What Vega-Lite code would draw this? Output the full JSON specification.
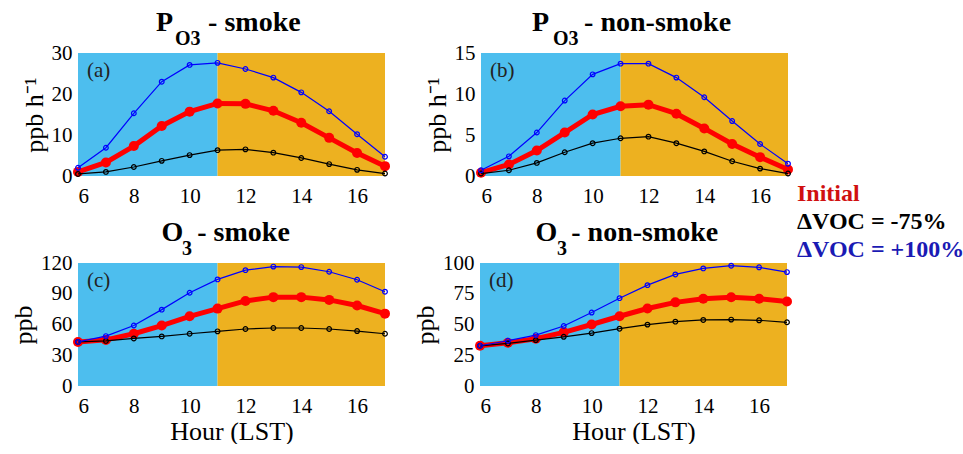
{
  "$schema": "https://vega.github.io/schema/vega-lite/v6.json",
  "padding": {"left": 10, "top": 9, "right": 0, "bottom": 0},
  "background": "white",
  "datasets": {
    "series": [
      {"panel":"a","scenario":"Initial","hour":6,"value":1.0},{"panel":"a","scenario":"Initial","hour":7,"value":3.3},{"panel":"a","scenario":"Initial","hour":8,"value":7.3},{"panel":"a","scenario":"Initial","hour":9,"value":12.2},{"panel":"a","scenario":"Initial","hour":10,"value":15.7},{"panel":"a","scenario":"Initial","hour":11,"value":17.7},{"panel":"a","scenario":"Initial","hour":12,"value":17.6},{"panel":"a","scenario":"Initial","hour":13,"value":15.9},{"panel":"a","scenario":"Initial","hour":14,"value":13.0},{"panel":"a","scenario":"Initial","hour":15,"value":9.3},{"panel":"a","scenario":"Initial","hour":16,"value":5.6},{"panel":"a","scenario":"Initial","hour":17,"value":2.4},
      {"panel":"a","scenario":"ΔVOC = -75%","hour":6,"value":0.5},{"panel":"a","scenario":"ΔVOC = -75%","hour":7,"value":1.0},{"panel":"a","scenario":"ΔVOC = -75%","hour":8,"value":2.2},{"panel":"a","scenario":"ΔVOC = -75%","hour":9,"value":3.7},{"panel":"a","scenario":"ΔVOC = -75%","hour":10,"value":5.1},{"panel":"a","scenario":"ΔVOC = -75%","hour":11,"value":6.3},{"panel":"a","scenario":"ΔVOC = -75%","hour":12,"value":6.5},{"panel":"a","scenario":"ΔVOC = -75%","hour":13,"value":5.7},{"panel":"a","scenario":"ΔVOC = -75%","hour":14,"value":4.4},{"panel":"a","scenario":"ΔVOC = -75%","hour":15,"value":2.9},{"panel":"a","scenario":"ΔVOC = -75%","hour":16,"value":1.5},{"panel":"a","scenario":"ΔVOC = -75%","hour":17,"value":0.6},
      {"panel":"a","scenario":"ΔVOC = +100%","hour":6,"value":2.0},{"panel":"a","scenario":"ΔVOC = +100%","hour":7,"value":6.9},{"panel":"a","scenario":"ΔVOC = +100%","hour":8,"value":15.3},{"panel":"a","scenario":"ΔVOC = +100%","hour":9,"value":23.0},{"panel":"a","scenario":"ΔVOC = +100%","hour":10,"value":27.1},{"panel":"a","scenario":"ΔVOC = +100%","hour":11,"value":27.6},{"panel":"a","scenario":"ΔVOC = +100%","hour":12,"value":26.1},{"panel":"a","scenario":"ΔVOC = +100%","hour":13,"value":24.0},{"panel":"a","scenario":"ΔVOC = +100%","hour":14,"value":20.4},{"panel":"a","scenario":"ΔVOC = +100%","hour":15,"value":15.8},{"panel":"a","scenario":"ΔVOC = +100%","hour":16,"value":10.2},{"panel":"a","scenario":"ΔVOC = +100%","hour":17,"value":4.7},
      {"panel":"b","scenario":"Initial","hour":6,"value":0.4},{"panel":"b","scenario":"Initial","hour":7,"value":1.4},{"panel":"b","scenario":"Initial","hour":8,"value":3.1},{"panel":"b","scenario":"Initial","hour":9,"value":5.3},{"panel":"b","scenario":"Initial","hour":10,"value":7.5},{"panel":"b","scenario":"Initial","hour":11,"value":8.5},{"panel":"b","scenario":"Initial","hour":12,"value":8.7},{"panel":"b","scenario":"Initial","hour":13,"value":7.6},{"panel":"b","scenario":"Initial","hour":14,"value":5.8},{"panel":"b","scenario":"Initial","hour":15,"value":3.9},{"panel":"b","scenario":"Initial","hour":16,"value":2.3},{"panel":"b","scenario":"Initial","hour":17,"value":0.8},
      {"panel":"b","scenario":"ΔVOC = -75%","hour":6,"value":0.3},{"panel":"b","scenario":"ΔVOC = -75%","hour":7,"value":0.7},{"panel":"b","scenario":"ΔVOC = -75%","hour":8,"value":1.6},{"panel":"b","scenario":"ΔVOC = -75%","hour":9,"value":2.9},{"panel":"b","scenario":"ΔVOC = -75%","hour":10,"value":4.0},{"panel":"b","scenario":"ΔVOC = -75%","hour":11,"value":4.6},{"panel":"b","scenario":"ΔVOC = -75%","hour":12,"value":4.8},{"panel":"b","scenario":"ΔVOC = -75%","hour":13,"value":4.0},{"panel":"b","scenario":"ΔVOC = -75%","hour":14,"value":3.0},{"panel":"b","scenario":"ΔVOC = -75%","hour":15,"value":1.8},{"panel":"b","scenario":"ΔVOC = -75%","hour":16,"value":0.9},{"panel":"b","scenario":"ΔVOC = -75%","hour":17,"value":0.3},
      {"panel":"b","scenario":"ΔVOC = +100%","hour":6,"value":0.7},{"panel":"b","scenario":"ΔVOC = +100%","hour":7,"value":2.4},{"panel":"b","scenario":"ΔVOC = +100%","hour":8,"value":5.3},{"panel":"b","scenario":"ΔVOC = +100%","hour":9,"value":9.2},{"panel":"b","scenario":"ΔVOC = +100%","hour":10,"value":12.4},{"panel":"b","scenario":"ΔVOC = +100%","hour":11,"value":13.7},{"panel":"b","scenario":"ΔVOC = +100%","hour":12,"value":13.7},{"panel":"b","scenario":"ΔVOC = +100%","hour":13,"value":12.0},{"panel":"b","scenario":"ΔVOC = +100%","hour":14,"value":9.6},{"panel":"b","scenario":"ΔVOC = +100%","hour":15,"value":6.7},{"panel":"b","scenario":"ΔVOC = +100%","hour":16,"value":3.9},{"panel":"b","scenario":"ΔVOC = +100%","hour":17,"value":1.5},
      {"panel":"c","scenario":"Initial","hour":6,"value":43},{"panel":"c","scenario":"Initial","hour":7,"value":45},{"panel":"c","scenario":"Initial","hour":8,"value":51},{"panel":"c","scenario":"Initial","hour":9,"value":59},{"panel":"c","scenario":"Initial","hour":10,"value":68},{"panel":"c","scenario":"Initial","hour":11,"value":75.5},{"panel":"c","scenario":"Initial","hour":12,"value":83},{"panel":"c","scenario":"Initial","hour":13,"value":86.7},{"panel":"c","scenario":"Initial","hour":14,"value":86.7},{"panel":"c","scenario":"Initial","hour":15,"value":84},{"panel":"c","scenario":"Initial","hour":16,"value":78.5},{"panel":"c","scenario":"Initial","hour":17,"value":70.6},
      {"panel":"c","scenario":"ΔVOC = -75%","hour":6,"value":43},{"panel":"c","scenario":"ΔVOC = -75%","hour":7,"value":44},{"panel":"c","scenario":"ΔVOC = -75%","hour":8,"value":46.4},{"panel":"c","scenario":"ΔVOC = -75%","hour":9,"value":48.4},{"panel":"c","scenario":"ΔVOC = -75%","hour":10,"value":51},{"panel":"c","scenario":"ΔVOC = -75%","hour":11,"value":53.3},{"panel":"c","scenario":"ΔVOC = -75%","hour":12,"value":55.6},{"panel":"c","scenario":"ΔVOC = -75%","hour":13,"value":56.6},{"panel":"c","scenario":"ΔVOC = -75%","hour":14,"value":56.6},{"panel":"c","scenario":"ΔVOC = -75%","hour":15,"value":55.6},{"panel":"c","scenario":"ΔVOC = -75%","hour":16,"value":53.6},{"panel":"c","scenario":"ΔVOC = -75%","hour":17,"value":51},
      {"panel":"c","scenario":"ΔVOC = +100%","hour":6,"value":43},{"panel":"c","scenario":"ΔVOC = +100%","hour":7,"value":48.7},{"panel":"c","scenario":"ΔVOC = +100%","hour":8,"value":59},{"panel":"c","scenario":"ΔVOC = +100%","hour":9,"value":74.5},{"panel":"c","scenario":"ΔVOC = +100%","hour":10,"value":91},{"panel":"c","scenario":"ΔVOC = +100%","hour":11,"value":104},{"panel":"c","scenario":"ΔVOC = +100%","hour":12,"value":113},{"panel":"c","scenario":"ΔVOC = +100%","hour":13,"value":116.5},{"panel":"c","scenario":"ΔVOC = +100%","hour":14,"value":116},{"panel":"c","scenario":"ΔVOC = +100%","hour":15,"value":111.5},{"panel":"c","scenario":"ΔVOC = +100%","hour":16,"value":103.7},{"panel":"c","scenario":"ΔVOC = +100%","hour":17,"value":92},
      {"panel":"d","scenario":"Initial","hour":6,"value":32.7},{"panel":"d","scenario":"Initial","hour":7,"value":35.1},{"panel":"d","scenario":"Initial","hour":8,"value":38.4},{"panel":"d","scenario":"Initial","hour":9,"value":43.6},{"panel":"d","scenario":"Initial","hour":10,"value":50},{"panel":"d","scenario":"Initial","hour":11,"value":56.7},{"panel":"d","scenario":"Initial","hour":12,"value":63},{"panel":"d","scenario":"Initial","hour":13,"value":68},{"panel":"d","scenario":"Initial","hour":14,"value":71},{"panel":"d","scenario":"Initial","hour":15,"value":72.2},{"panel":"d","scenario":"Initial","hour":16,"value":71},{"panel":"d","scenario":"Initial","hour":17,"value":68.7},
      {"panel":"d","scenario":"ΔVOC = -75%","hour":6,"value":32.7},{"panel":"d","scenario":"ΔVOC = -75%","hour":7,"value":34.6},{"panel":"d","scenario":"ΔVOC = -75%","hour":8,"value":37.3},{"panel":"d","scenario":"ΔVOC = -75%","hour":9,"value":40},{"panel":"d","scenario":"ΔVOC = -75%","hour":10,"value":43},{"panel":"d","scenario":"ΔVOC = -75%","hour":11,"value":46.6},{"panel":"d","scenario":"ΔVOC = -75%","hour":12,"value":49.9},{"panel":"d","scenario":"ΔVOC = -75%","hour":13,"value":52.3},{"panel":"d","scenario":"ΔVOC = -75%","hour":14,"value":53.7},{"panel":"d","scenario":"ΔVOC = -75%","hour":15,"value":54},{"panel":"d","scenario":"ΔVOC = -75%","hour":16,"value":53.4},{"panel":"d","scenario":"ΔVOC = -75%","hour":17,"value":51.8},
      {"panel":"d","scenario":"ΔVOC = +100%","hour":6,"value":32.7},{"panel":"d","scenario":"ΔVOC = +100%","hour":7,"value":36.8},{"panel":"d","scenario":"ΔVOC = +100%","hour":8,"value":41.4},{"panel":"d","scenario":"ΔVOC = +100%","hour":9,"value":48.8},{"panel":"d","scenario":"ΔVOC = +100%","hour":10,"value":59.7},{"panel":"d","scenario":"ΔVOC = +100%","hour":11,"value":71.4},{"panel":"d","scenario":"ΔVOC = +100%","hour":12,"value":82},{"panel":"d","scenario":"ΔVOC = +100%","hour":13,"value":90.7},{"panel":"d","scenario":"ΔVOC = +100%","hour":14,"value":95.6},{"panel":"d","scenario":"ΔVOC = +100%","hour":15,"value":97.8},{"panel":"d","scenario":"ΔVOC = +100%","hour":16,"value":96.5},{"panel":"d","scenario":"ΔVOC = +100%","hour":17,"value":92.6}
    ],
    "periods": [
      {"start": 6, "end": 11, "period": "morning"},
      {"start": 11, "end": 17, "period": "afternoon"}
    ]
  },
  "config": {
    "view": {"stroke": null},
    "font": "Liberation Serif",
    "axis": {"domain": false, "ticks": false, "grid": false, "labelOverlap": false, "labelFont": "Liberation Serif", "labelFontSize": 21, "labelColor": "#000000", "titleFont": "Liberation Serif", "titleFontSize": 26, "titleFontWeight": "normal", "titleColor": "#000000"},
    "axisX": {"labelPadding": 9, "titlePadding": 2, "labelOverlap": false},
    "axisY": {"labelPadding": 6, "titlePadding": 4, "labelOverlap": false},
    "title": {"font": "Liberation Serif", "fontWeight": "bold", "color": "#000000"},
    "legend": {"orient": "none", "legendX": 695, "legendY": 129, "title": null, "symbolSize": 0, "symbolStrokeWidth": 0, "symbolOpacity": 0, "labelFont": "Liberation Serif", "labelFontWeight": "bold", "labelFontSize": 24, "labelOffset": 0, "rowPadding": 4, "padding": 0, "labelLimit": 300,
      "labelColor": {"expr": "datum.value == 'Initial' ? '#d01010' : (datum.value == 'ΔVOC = -75%' ? '#000000' : '#1a1ab4')"}}
  },
  "spacing": 13,
  "vconcat": [
    {
      "spacing": 29,
      "hconcat": [
        {
          "title": {"text": "P\u00a0\u00a0\u00a0\u00a0\u00a0- smoke", "fontSize": 28, "anchor": "start", "dx": 135, "offset": -8},
          "vconcat": [{
            "title": {"text": "O3", "fontSize": 20, "anchor": "start", "frame": "group", "dx": 97, "offset": -7},
            "width": 307, "height": 123,
            "layer": [
              {"data": {"name": "periods"}, "mark": {"type": "rect"},
               "encoding": {"x": {"field": "start", "type": "quantitative", "scale": {"domain": [6, 17], "nice": false}, "axis": {"values": [6, 8, 10, 12, 14, 16], "title": null, "labelOverlap": false}},
                 "x2": {"field": "end"},
                 "fill": {"field": "period", "type": "nominal", "scale": {"domain": ["morning", "afternoon"], "range": ["#4DBEEE", "#EDB120"]}, "legend": null}}},
              {"data": {"name": "series"}, "transform": [{"filter": "datum.panel == 'a' && datum.scenario == 'Initial'"}],
               "mark": {"type": "line", "strokeWidth": 5, "point": {"filled": true, "size": 100}},
               "encoding": {"x": {"field": "hour", "type": "quantitative", "axis": {"values": [6, 8, 10, 12, 14, 16], "title": null, "labelOverlap": false}},
                 "y": {"field": "value", "type": "quantitative", "scale": {"domain": [0, 30], "nice": false}, "axis": {"values": [0, 10, 20, 30], "title": "ppb h⁻¹", "labelOverlap": false}},
                 "color": {"field": "scenario", "type": "nominal", "scale": {"domain": ["Initial", "ΔVOC = -75%", "ΔVOC = +100%"], "range": ["#ff0000", "#000000", "#0000ff"]}}}},
              {"data": {"name": "series"}, "transform": [{"filter": "datum.panel == 'a' && datum.scenario != 'Initial'"}],
               "mark": {"type": "line", "strokeWidth": 1.2, "point": {"filled": false, "size": 22, "strokeWidth": 1.2}},
               "encoding": {"x": {"field": "hour", "type": "quantitative", "axis": {"values": [6, 8, 10, 12, 14, 16], "title": null, "labelOverlap": false}},
                 "y": {"field": "value", "type": "quantitative", "axis": {"values": [0, 10, 20, 30], "title": "ppb h⁻¹", "labelOverlap": false}},
                 "color": {"field": "scenario", "type": "nominal"}}},
              {"data": {"values": [{}]}, "mark": {"type": "text", "align": "left", "baseline": "top", "dx": 9, "dy": 7, "fontSize": 21, "font": "Liberation Serif", "color": "#222222"},
               "encoding": {"x": {"datum": 6, "type": "quantitative", "axis": {"values": [6, 8, 10, 12, 14, 16], "title": null, "labelOverlap": false}},
                 "y": {"datum": 30, "type": "quantitative", "axis": {"values": [0, 10, 20, 30], "title": "ppb h⁻¹", "labelOverlap": false}}, "text": {"value": "(a)"}}}
            ]
          }]
        },
        {
          "title": {"text": "P\u00a0\u00a0\u00a0\u00a0\u00a0- non-smoke", "fontSize": 28, "anchor": "start", "dx": 108, "offset": -8},
          "vconcat": [{
            "title": {"text": "O3", "fontSize": 20, "anchor": "start", "frame": "group", "dx": 72, "offset": -7},
            "width": 307, "height": 123,
            "layer": [
              {"data": {"name": "periods"}, "mark": {"type": "rect"},
               "encoding": {"x": {"field": "start", "type": "quantitative", "scale": {"domain": [6, 17], "nice": false}, "axis": {"values": [6, 8, 10, 12, 14, 16], "title": null, "labelOverlap": false}},
                 "x2": {"field": "end"},
                 "fill": {"field": "period", "type": "nominal", "legend": null}}},
              {"data": {"name": "series"}, "transform": [{"filter": "datum.panel == 'b' && datum.scenario == 'Initial'"}],
               "mark": {"type": "line", "strokeWidth": 5, "point": {"filled": true, "size": 100}},
               "encoding": {"x": {"field": "hour", "type": "quantitative", "axis": {"values": [6, 8, 10, 12, 14, 16], "title": null, "labelOverlap": false}},
                 "y": {"field": "value", "type": "quantitative", "scale": {"domain": [0, 15], "nice": false}, "axis": {"values": [0, 5, 10, 15], "title": "ppb h⁻¹", "labelOverlap": false}},
                 "color": {"field": "scenario", "type": "nominal"}}},
              {"data": {"name": "series"}, "transform": [{"filter": "datum.panel == 'b' && datum.scenario != 'Initial'"}],
               "mark": {"type": "line", "strokeWidth": 1.2, "point": {"filled": false, "size": 22, "strokeWidth": 1.2}},
               "encoding": {"x": {"field": "hour", "type": "quantitative", "axis": {"values": [6, 8, 10, 12, 14, 16], "title": null, "labelOverlap": false}},
                 "y": {"field": "value", "type": "quantitative", "axis": {"values": [0, 5, 10, 15], "title": "ppb h⁻¹", "labelOverlap": false}},
                 "color": {"field": "scenario", "type": "nominal"}}},
              {"data": {"values": [{}]}, "mark": {"type": "text", "align": "left", "baseline": "top", "dx": 9, "dy": 7, "fontSize": 21, "font": "Liberation Serif", "color": "#222222"},
               "encoding": {"x": {"datum": 6, "type": "quantitative", "axis": {"values": [6, 8, 10, 12, 14, 16], "title": null, "labelOverlap": false}},
                 "y": {"datum": 15, "type": "quantitative", "axis": {"values": [0, 5, 10, 15], "title": "ppb h⁻¹", "labelOverlap": false}}, "text": {"value": "(b)"}}}
            ]
          }]
        }
      ]
    },
    {
      "spacing": 17,
      "hconcat": [
        {
          "title": {"text": "O\u00a0\u00a0- smoke", "fontSize": 28, "anchor": "start", "dx": 151, "offset": -8},
          "vconcat": [{
            "title": {"text": "3", "fontSize": 20, "anchor": "start", "frame": "group", "dx": 104, "offset": -7},
            "width": 307, "height": 123,
            "layer": [
              {"data": {"name": "periods"}, "mark": {"type": "rect"},
               "encoding": {"x": {"field": "start", "type": "quantitative", "scale": {"domain": [6, 17], "nice": false}, "axis": {"values": [6, 8, 10, 12, 14, 16], "title": "Hour (LST)", "labelOverlap": false}},
                 "x2": {"field": "end"},
                 "fill": {"field": "period", "type": "nominal", "legend": null}}},
              {"data": {"name": "series"}, "transform": [{"filter": "datum.panel == 'c' && datum.scenario == 'Initial'"}],
               "mark": {"type": "line", "strokeWidth": 5, "point": {"filled": true, "size": 100}},
               "encoding": {"x": {"field": "hour", "type": "quantitative", "axis": {"values": [6, 8, 10, 12, 14, 16], "title": "Hour (LST)", "labelOverlap": false}},
                 "y": {"field": "value", "type": "quantitative", "scale": {"domain": [0, 120], "nice": false}, "axis": {"values": [0, 30, 60, 90, 120], "title": "ppb", "labelOverlap": false}},
                 "color": {"field": "scenario", "type": "nominal"}}},
              {"data": {"name": "series"}, "transform": [{"filter": "datum.panel == 'c' && datum.scenario != 'Initial'"}],
               "mark": {"type": "line", "strokeWidth": 1.2, "point": {"filled": false, "size": 22, "strokeWidth": 1.2}},
               "encoding": {"x": {"field": "hour", "type": "quantitative", "axis": {"values": [6, 8, 10, 12, 14, 16], "title": "Hour (LST)", "labelOverlap": false}},
                 "y": {"field": "value", "type": "quantitative", "axis": {"values": [0, 30, 60, 90, 120], "title": "ppb", "labelOverlap": false}},
                 "color": {"field": "scenario", "type": "nominal"}}},
              {"data": {"values": [{}]}, "mark": {"type": "text", "align": "left", "baseline": "top", "dx": 9, "dy": 7, "fontSize": 21, "font": "Liberation Serif", "color": "#222222"},
               "encoding": {"x": {"datum": 6, "type": "quantitative", "axis": {"values": [6, 8, 10, 12, 14, 16], "title": "Hour (LST)", "labelOverlap": false}},
                 "y": {"datum": 120, "type": "quantitative", "axis": {"values": [0, 30, 60, 90, 120], "title": "ppb", "labelOverlap": false}}, "text": {"value": "(c)"}}}
            ]
          }]
        },
        {
          "title": {"text": "O\u00a0\u00a0- non-smoke", "fontSize": 28, "anchor": "start", "dx": 123, "offset": -8},
          "vconcat": [{
            "title": {"text": "3", "fontSize": 20, "anchor": "start", "frame": "group", "dx": 77, "offset": -7},
            "width": 307, "height": 123,
            "layer": [
              {"data": {"name": "periods"}, "mark": {"type": "rect"},
               "encoding": {"x": {"field": "start", "type": "quantitative", "scale": {"domain": [6, 17], "nice": false}, "axis": {"values": [6, 8, 10, 12, 14, 16], "title": "Hour (LST)", "labelOverlap": false}},
                 "x2": {"field": "end"},
                 "fill": {"field": "period", "type": "nominal", "legend": null}}},
              {"data": {"name": "series"}, "transform": [{"filter": "datum.panel == 'd' && datum.scenario == 'Initial'"}],
               "mark": {"type": "line", "strokeWidth": 5, "point": {"filled": true, "size": 100}},
               "encoding": {"x": {"field": "hour", "type": "quantitative", "axis": {"values": [6, 8, 10, 12, 14, 16], "title": "Hour (LST)", "labelOverlap": false}},
                 "y": {"field": "value", "type": "quantitative", "scale": {"domain": [0, 100], "nice": false}, "axis": {"values": [0, 25, 50, 75, 100], "title": "ppb", "labelOverlap": false}},
                 "color": {"field": "scenario", "type": "nominal"}}},
              {"data": {"name": "series"}, "transform": [{"filter": "datum.panel == 'd' && datum.scenario != 'Initial'"}],
               "mark": {"type": "line", "strokeWidth": 1.2, "point": {"filled": false, "size": 22, "strokeWidth": 1.2}},
               "encoding": {"x": {"field": "hour", "type": "quantitative", "axis": {"values": [6, 8, 10, 12, 14, 16], "title": "Hour (LST)", "labelOverlap": false}},
                 "y": {"field": "value", "type": "quantitative", "axis": {"values": [0, 25, 50, 75, 100], "title": "ppb", "labelOverlap": false}},
                 "color": {"field": "scenario", "type": "nominal"}}},
              {"data": {"values": [{}]}, "mark": {"type": "text", "align": "left", "baseline": "top", "dx": 9, "dy": 7, "fontSize": 21, "font": "Liberation Serif", "color": "#222222"},
               "encoding": {"x": {"datum": 6, "type": "quantitative", "axis": {"values": [6, 8, 10, 12, 14, 16], "title": "Hour (LST)", "labelOverlap": false}},
                 "y": {"datum": 100, "type": "quantitative", "axis": {"values": [0, 25, 50, 75, 100], "title": "ppb", "labelOverlap": false}}, "text": {"value": "(d)"}}}
            ]
          }]
        }
      ]
    }
  ]
}
